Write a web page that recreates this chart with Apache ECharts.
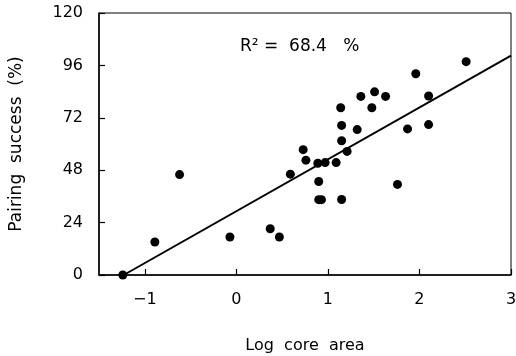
<!DOCTYPE html>
<html>
<head>
<meta charset="utf-8">
<script src="https://cdn.jsdelivr.net/npm/echarts@6/dist/echarts.min.js"></script>
<style>html,body{margin:0;padding:0;background:#fff}#c{width:516px;height:356px}</style>
</head>
<body>
<div id="c"></div>
<script>
// Data
var logCoreArea = [-1.24, -0.89, -0.62, -0.07, 0.37, 0.47, 0.59, 0.73, 0.76, 0.89, 0.97, 1.09, 0.90, 0.90, 0.93, 1.15, 1.15, 1.21, 1.15, 1.14, 1.32, 1.36, 1.48, 1.51, 1.63, 1.76, 1.87, 1.96, 2.10, 2.10, 2.51];
var pairingSuccess = [0, 15.1, 46.0, 17.4, 21.2, 17.4, 46.2, 57.4, 52.6, 51.2, 51.5, 51.5, 42.8, 34.5, 34.5, 34.6, 61.5, 56.6, 68.5, 76.6, 66.6, 81.8, 76.6, 83.9, 81.8, 41.5, 66.9, 92.2, 82.0, 68.9, 97.7];
var fitX = [-1.23, 3];
var fitY = [0, 100.5];
var xTicks = [-1, 0, 1, 2, 3];
var yTicks = [0, 24, 48, 72, 96, 120];
var annotation = 'R\u00b2 =  68.4   %';

var pts = logCoreArea.map(function (x, i) { return [x, pairingSuccess[i]]; });
var fit = fitX.map(function (x, i) { return [x, fitY[i]]; });
var font = 'DejaVu Sans';

var chart = echarts.init(document.getElementById('c'), null, { renderer: 'canvas' });
chart.setOption({
  animation: false,
  backgroundColor: '#fff',
  grid: { left: 99, right: 5, top: 13, bottom: 81, show: true, borderColor: '#000', borderWidth: 1,
    containLabel: false, outerBoundsMode: 'none' },
  xAxis: {
    type: 'value', min: -1.5, max: 3, interval: 0.5,
    name: 'Log  core  area', nameLocation: 'middle', nameGap: 63,
    nameTextStyle: { fontFamily: font, fontSize: 16, color: '#000' },
    axisLine: { show: true, onZero: false, lineStyle: { color: '#000', width: 1.5 } },
    axisTick: { show: true, inside: true, length: 6, customValues: xTicks, lineStyle: { color: '#000', width: 1.2 } },
    axisLabel: { customValues: xTicks, margin: 17, fontFamily: font, fontSize: 16, color: '#000',
      formatter: function (v) { return String(v).replace('-', '\u2212'); } },
    splitLine: { show: false }
  },
  yAxis: {
    type: 'value', min: 0, max: 120, interval: 24,
    name: 'Pairing  success  (%)', nameLocation: 'middle', nameGap: 74,
    nameTextStyle: { fontFamily: font, fontSize: 17, color: '#000' },
    axisLine: { show: true, onZero: false, lineStyle: { color: '#000', width: 1.5 } },
    axisTick: { show: true, inside: true, length: 6, customValues: yTicks, lineStyle: { color: '#000', width: 1.2 } },
    axisLabel: { customValues: yTicks, margin: 16, fontFamily: font, fontSize: 16, color: '#000' },
    splitLine: { show: false }
  },
  graphic: [{
    type: 'text', left: 240, top: 38,
    style: { text: annotation, fontFamily: font, fontSize: 17, fill: '#000' }
  }],
  series: [
    { type: 'line', data: fit, symbol: 'none', lineStyle: { color: '#000', width: 2 }, z: 2 },
    { type: 'scatter', data: pts, symbol: 'circle', symbolSize: 9, clip: false,
      itemStyle: { color: '#000', opacity: 1 }, z: 3 }
  ]
});
</script>
</body>
</html>
